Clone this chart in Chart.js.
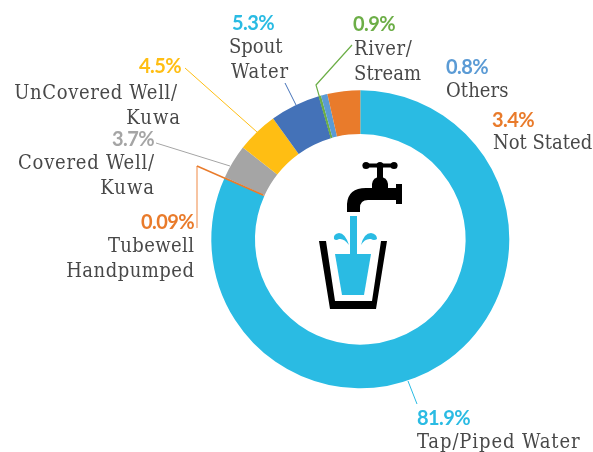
<!DOCTYPE html>
<html><head><meta charset="utf-8">
<style>html,body{margin:0;padding:0;background:#fff}canvas{display:block}</style>
<script src="https://cdn.jsdelivr.net/npm/chart.js@4"></script>
</head><body><canvas id="c" width="593" height="452"></canvas>
<script>
const categories=["Tap/Piped Water","Tubewell Handpumped","Covered Well/ Kuwa","UnCovered Well/ Kuwa","Spout Water","River/ Stream","Others","Not Stated"];
// slice sizes as drawn in the picture (the River/Stream slice is drawn far thinner than its 0.9% label)
const values=[81.76,0.09,3.7,4.5,5.45,0.25,0.7,3.55];
const colors=["#2ABBE3","#E97B2B","#A5A5A5","#FFBE13","#4472B8","#6CAE47","#5B9BD5","#E97B2B"];
const pctLabels=["81.9%","0.09%","3.7%","4.5%","5.3%","0.9%","0.8%","3.4%"];
const pctColors=["#2ABBE3","#E97B2B","#A5A5A5","#FFBE13","#2ABBE3","#6CAE47","#5B9BD5","#E97B2B"];
const nameLines=[["Tap/Piped Water"],["Tubewell","Handpumped"],["Covered Well/","Kuwa"],["UnCovered Well/","Kuwa"],["Spout","Water"],["River/","Stream"],["Others"],["Not Stated"]];
// annotation layout: pct x, align, pct baseline, [line x, line baseline, letter spacing]
const layout=[
 [417,"left",425,[[417,448,0.9]]],
 [194,"right",229,[[194,252,0.4],[194,277,0.5]]],
 [154,"right",146,[[154,169,0.75],[154,194,1]]],
 [181,"right",73,[[177,99,0.65],[180,124,1]]],
 [232,"left",30,[[229,53,0],[231,78,0.8]]],
 [353,"left",31,[[354,55,0.6],[354,80,0.1]]],
 [446,"left",74,[[446,97,0.1]]],
 [492,"left",127,[[493,149,0]]]
];
const leaders=[
 [[[408,381],[417,404]]],
 [[[197,228],[197,166]],[[197,166],[263,195]]],
 [[[156,143],[230,166]]],
 [[[185,68],[257,132]]],
 [[[285,83],[296,105]]],
 [[[352,45],[316,85],[331,137]]],
 null,null
];
const leaderColors=[["#2ABBE3"],["#F4B183","#E97B2B"],["#A5A5A5"],["#FFBE13"],["#4472B8"],["#6CAE47"],null,null];
const leaderWidths=[[1],[1.5,1.4],[1],[1],[1],[1.2],null,null];
const nameFont='300 20px "DejaVu Serif Condensed","DejaVu Serif",serif';
const labels={id:"labels",afterDraw(chart){
 const ctx=chart.ctx;ctx.save();
 leaders.forEach((group,i)=>{if(!group)return;group.forEach((l,g)=>{ctx.beginPath();l.forEach((p,k)=>k?ctx.lineTo(p[0],p[1]):ctx.moveTo(p[0],p[1]));ctx.strokeStyle=leaderColors[i][g];ctx.lineWidth=leaderWidths[i][g];ctx.stroke();});});
 categories.forEach((c,i)=>{
  const [x,align,py,ls]=layout[i];
  ctx.textAlign=align;ctx.textBaseline="alphabetic";
  ctx.font='700 20px Lato';ctx.fillStyle=pctColors[i];ctx.letterSpacing="-0.6px";
  ctx.fillText(pctLabels[i],x,py);
  ctx.font=nameFont;ctx.fillStyle="#484848";
  nameLines[i].forEach((t,k)=>{const [lx,ly,sp]=ls[k];ctx.letterSpacing=sp+"px";ctx.fillText(t,align==="right"?lx+sp:lx,ly);});
 });
 // faucet and glass icon
 ctx.letterSpacing="0px";ctx.fillStyle="#000";
 ctx.fillRect(366,163.5,28,4);
 [366,380,394].forEach(x=>{ctx.beginPath();ctx.arc(x,165.5,3.6,0,7);ctx.fill();});
 ctx.fillRect(377,166,6,14);
 ctx.beginPath();ctx.moveTo(372,192);ctx.lineTo(372,184);ctx.quadraticCurveTo(373,177,380,177);ctx.quadraticCurveTo(387,177,388,184);ctx.lineTo(388,192);ctx.fill();
 ctx.fill(new Path2D("M347 212 L347 204 Q348 188 366 188 L396 188 L396 184 L402 184 L402 204 L396 204 L396 200 L368 200 Q360 200 360 208 L360 212 Z"));
 ctx.fill(new Path2D("M319 241 L326 241 L335 301 L372 301 L381 241 L387 241 L376 309 L330 309 Z"));
 ctx.fillStyle="#2ABBE3";
 ctx.fillRect(350,216,7,40);
 ctx.fill(new Path2D("M335 254 L371 254 L364 295 L342 295 Z"));
 ctx.fill(new Path2D("M349 245 Q345 233 339 233 Q333 234 334 239 Q336 241 339 239 Q344 238 349 245 Z"));
 ctx.fill(new Path2D("M361 245 Q364 233 371 233 Q377 234 377 239 Q374 241 371 239 Q365 238 361 245 Z"));
 ctx.restore();
}};
new Chart(document.getElementById("c"),{
 type:"doughnut",
 data:{labels:categories,datasets:[{data:values,backgroundColor:colors,borderWidth:0}]},
 options:{responsive:false,animation:false,cutout:"70.7%",
  layout:{padding:{left:211.3,right:83.7,top:90.3,bottom:63.7}},
  plugins:{legend:{display:false},tooltip:{enabled:false}}},
 plugins:[labels]
});
</script></body></html>
